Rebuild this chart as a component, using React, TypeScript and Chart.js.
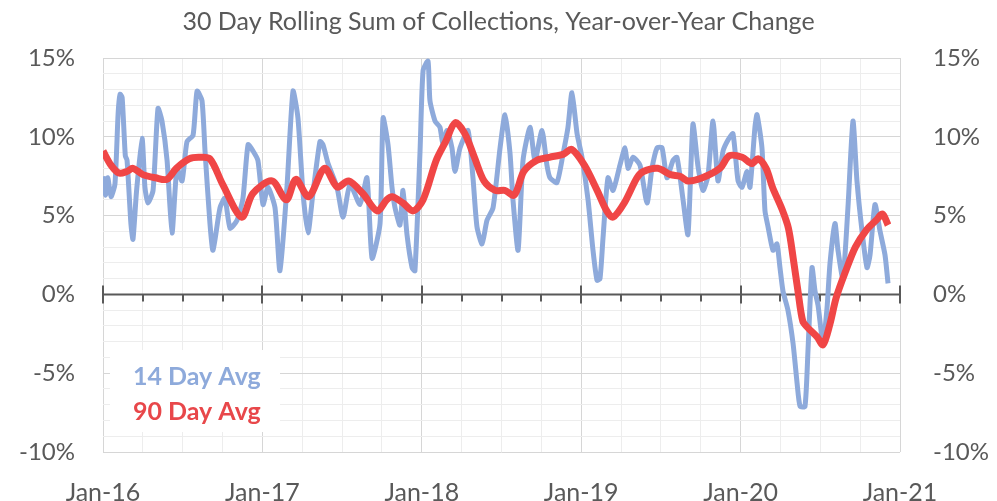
import React, { useEffect, useRef } from 'react';
import { Chart, registerables } from 'chart.js';

Chart.register(...registerables);

const TITLE = '30 Day Rolling Sum of Collections, Year-over-Year Change';
const X_START = 2016;
const X_END = 2021;
const Y_MIN = -10;
const Y_MAX = 15;

// years since Jan-16
const avg14Time = [
  0.000, 0.015, 0.030, 0.050, 0.075, 0.095, 0.107, 0.120, 0.140, 0.151, 0.175, 0.188, 0.210, 0.245, 0.263, 0.282,
  0.314, 0.345, 0.370, 0.402, 0.433, 0.464, 0.496, 0.527, 0.565, 0.590, 0.621, 0.640, 0.671, 0.690, 0.734, 0.765,
  0.797, 0.841, 0.878, 0.910, 0.941, 0.972, 1.004, 1.035, 1.079, 1.110, 1.154, 1.192, 1.223, 1.255, 1.286, 1.317,
  1.361, 1.380, 1.412, 1.468, 1.506, 1.550, 1.612, 1.656, 1.688, 1.738, 1.757, 1.788, 1.813, 1.832, 1.863, 1.882,
  1.907, 1.939, 1.957, 1.989, 2.008, 2.039, 2.051, 2.083, 2.114, 2.133, 2.158, 2.189, 2.208, 2.240, 2.290, 2.321,
  2.346, 2.378, 2.409, 2.447, 2.491, 2.522, 2.553, 2.572, 2.604, 2.635, 2.679, 2.710, 2.754, 2.785, 2.804, 2.848,
  2.886, 2.917, 2.942, 2.974, 3.005, 3.043, 3.074, 3.099, 3.118, 3.137, 3.168, 3.200, 3.243, 3.275, 3.294, 3.325,
  3.369, 3.413, 3.444, 3.476, 3.507, 3.538, 3.576, 3.601, 3.639, 3.670, 3.701, 3.733, 3.764, 3.795, 3.827, 3.858,
  3.890, 3.921, 3.952, 3.984, 4.009, 4.040, 4.059, 4.090, 4.103, 4.134, 4.153, 4.172, 4.203, 4.228, 4.247, 4.266,
  4.297, 4.329, 4.354, 4.373, 4.404, 4.423, 4.448, 4.467, 4.486, 4.517, 4.542, 4.561, 4.592, 4.611, 4.642, 4.674,
  4.705, 4.730, 4.762, 4.793, 4.812, 4.843, 4.875, 4.906, 4.925,
];
const avg14Value = [
  7.5, 6.3, 7.4, 6.2, 7.0, 11.5, 12.7, 12.5, 8.8, 8.5, 4.5, 3.5, 6.5, 9.9, 6.8, 5.8,
  6.6, 11.8, 11.0, 8.5, 3.9, 8.0, 7.2, 9.7, 10.1, 12.9, 12.3, 9.1, 4.5, 2.8, 5.5, 6.1,
  4.2, 4.7, 6.1, 9.5, 9.1, 8.5, 5.7, 6.8, 5.5, 1.5, 6.8, 12.9, 11.2, 6.4, 3.9, 6.4,
  9.7, 9.5, 8.3, 6.8, 4.9, 7.0, 5.7, 7.4, 2.3, 4.5, 11.2, 9.5, 6.8, 5.5, 4.4, 6.6,
  3.8, 1.7, 1.5, 9.1, 14.2, 14.8, 12.3, 11.0, 10.6, 9.5, 10.4, 9.3, 7.8, 9.3, 10.4, 7.4,
  4.3, 3.2, 4.7, 5.5, 9.3, 11.4, 9.0, 6.0, 2.8, 8.5, 10.6, 8.5, 10.4, 8.2, 7.4, 7.1,
  8.9, 10.6, 12.8, 10.2, 8.7, 6.0, 2.8, 0.9, 1.0, 3.6, 7.4, 6.6, 8.2, 9.3, 8.0, 8.7,
  8.2, 5.8, 8.0, 9.3, 9.3, 7.4, 8.5, 8.7, 6.0, 3.8, 10.8, 8.1, 6.6, 7.5, 11.0, 7.2,
  9.1, 9.8, 10.2, 7.2, 6.8, 7.8, 6.8, 10.6, 11.4, 9.3, 5.3, 4.3, 2.8, 3.2, 1.7, 0.2,
  -1.0, -3.1, -5.6, -7.1, -7.1, -3.5, 1.7, 0.2, -0.7, -3.1, -0.9, 2.0, 4.5, 2.8, 1.0, 5.6,
  11.0, 7.2, 4.0, 1.7, 2.5, 5.7, 4.0, 2.5, 0.7,
];

const avg90Time = [
  0.000, 0.050, 0.100, 0.150, 0.188, 0.250, 0.330, 0.400, 0.460, 0.540, 0.600, 0.671, 0.750, 0.870, 0.940, 1.060,
  1.150, 1.210, 1.290, 1.390, 1.470, 1.540, 1.630, 1.720, 1.780, 1.813, 1.882, 1.945, 2.008, 2.090, 2.150, 2.210,
  2.270, 2.330, 2.390, 2.460, 2.520, 2.580, 2.640, 2.720, 2.800, 2.890, 2.940, 3.020, 3.100, 3.160, 3.200, 3.270,
  3.350, 3.390, 3.480, 3.560, 3.620, 3.670, 3.760, 3.870, 3.930, 4.010, 4.070, 4.110, 4.160, 4.200, 4.260, 4.300,
  4.330, 4.360, 4.390, 4.420, 4.480, 4.517, 4.560, 4.600, 4.660, 4.720, 4.790, 4.850, 4.890, 4.925,
];
const avg90Value = [
  9.1, 8.2, 7.7, 7.8, 8.0, 7.6, 7.4, 7.3, 8.0, 8.6, 8.7, 8.6, 7.0, 4.9, 6.4, 7.2,
  6.0, 7.3, 6.2, 8.0, 6.8, 7.2, 6.4, 5.3, 6.0, 6.2, 5.8, 5.3, 6.0, 8.5, 9.7, 10.9,
  10.2, 8.7, 7.2, 6.6, 6.6, 6.3, 7.8, 8.5, 8.7, 8.9, 9.2, 8.2, 6.6, 5.3, 4.9, 5.8,
  7.4, 7.8, 8.0, 7.6, 7.5, 7.2, 7.4, 8.0, 8.8, 8.7, 8.3, 8.6, 8.0, 6.8, 5.4, 4.2,
  2.3, 0.2, -1.7, -2.1, -2.7, -3.2, -1.9, -0.2, 1.5, 3.0, 4.1, 4.7, 5.1, 4.4,
];

const SERIES_LABELS = ['14 Day Avg', '90 Day Avg'];
const SERIES_COLORS = ['#8eaadb', '#f04646'];
const LEGEND_COLORS = ['#8eaadb', '#e8474a'];

const FONT = 'Lato, "Open Sans", sans-serif';
const TEXT = '#595959';
const GRID_MAJOR = '#d6d6d6';
const GRID_MINOR = '#ededed';

const isWhole = (v: number) => Math.abs(v - Math.round(v)) < 1e-6;

const decorPlugin = {
  id: 'decor',
  beforeDatasetsDraw(chart: any) {
    const { ctx, chartArea, scales } = chart;
    const xs = scales.x;
    const ys = scales.y;
    ctx.save();
    // legend background box
    ctx.fillStyle = '#ffffff';
    ctx.fillRect(chartArea.left + 7, chartArea.bottom - 102, 170, 82);
    // zero axis line
    const y0 = ys.getPixelForValue(0);
    ctx.strokeStyle = '#595959';
    ctx.lineWidth = 2;
    ctx.beginPath();
    ctx.moveTo(chartArea.left, y0);
    ctx.lineTo(chartArea.right, y0);
    ctx.stroke();
    for (let q = X_START; q <= X_END + 1e-6; q += 0.25) {
      const px = Math.round(xs.getPixelForValue(q));
      ctx.beginPath();
      if (isWhole(q)) {
        ctx.moveTo(px, y0 - 9);
        ctx.lineTo(px, y0 + 9);
      } else {
        ctx.moveTo(px, y0);
        ctx.lineTo(px, y0 + 7);
      }
      ctx.stroke();
    }
    ctx.restore();
  },
  afterDatasetsDraw(chart: any) {
    const { ctx, chartArea } = chart;
    ctx.save();
    ctx.font = `bold 25px ${FONT}`;
    ctx.textAlign = 'left';
    ctx.textBaseline = 'middle';
    ctx.fillStyle = LEGEND_COLORS[0];
    ctx.fillText(SERIES_LABELS[0], chartArea.left + 30, chartArea.bottom - 75);
    ctx.fillStyle = LEGEND_COLORS[1];
    ctx.fillText(SERIES_LABELS[1], chartArea.left + 30, chartArea.bottom - 40);
    ctx.restore();
  },
};

export default function App() {
  const canvasRef = useRef<HTMLCanvasElement | null>(null);

  useEffect(() => {
    if (!canvasRef.current) return;
    const blue = avg14Time.map((t, i) => ({ x: X_START + t, y: avg14Value[i] }));
    const red = avg90Time.map((t, i) => ({ x: X_START + t, y: avg90Value[i] }));

    const yTicks = {
      stepSize: 1,
      autoSkip: false,
      color: TEXT,
      font: { family: FONT, size: 24 },
      callback: (v: any) => (Math.round(v) % 5 === 0 ? `${Math.round(v)}%` : ''),
    };

    const chart = new Chart(canvasRef.current, {
      type: 'line',
      data: {
        datasets: [
          {
            label: SERIES_LABELS[1],
            data: red,
            borderColor: SERIES_COLORS[1],
            borderWidth: 7,
            pointRadius: 0,
            tension: 0.3,
            order: 1,
          },
          {
            label: SERIES_LABELS[0],
            data: blue,
            borderColor: SERIES_COLORS[0],
            borderWidth: 5,
            pointRadius: 0,
            tension: 0.2,
            order: 2,
          },
        ],
      },
      options: {
        animation: false,
        responsive: false,
        layout: { padding: 0 },
        plugins: {
          legend: { display: false },
          tooltip: { enabled: false },
          title: {
            display: true,
            text: TITLE,
            color: TEXT,
            font: { family: FONT, size: 25, weight: 'normal' },
            padding: { top: 7, bottom: 21 },
          },
        },
        scales: {
          x: {
            type: 'linear',
            position: 'bottom',
            min: X_START,
            max: X_END,
            border: { display: false },
            grid: {
              drawTicks: false,
              color: (c: any) => (c.tick && isWhole(c.tick.value) ? GRID_MAJOR : GRID_MINOR),
            },
            ticks: {
              stepSize: 0.25,
              autoSkip: false,
              maxRotation: 0,
              padding: 26,
              color: TEXT,
              font: { family: FONT, size: 25 },
              callback: (v: any) => (isWhole(v) ? `Jan-${String(Math.round(v)).slice(2)}` : ''),
            },
            afterFit: (s: any) => {
              s.height = 49;
            },
          },
          y: {
            type: 'linear',
            position: 'left',
            min: Y_MIN,
            max: Y_MAX,
            border: { display: false },
            grid: {
              drawTicks: false,
              color: (c: any) => (c.tick && Math.round(c.tick.value) % 5 === 0 ? GRID_MAJOR : GRID_MINOR),
            },
            ticks: { ...yTicks, padding: 28 },
            afterFit: (s: any) => {
              s.width = 103;
            },
          },
          y2: {
            type: 'linear',
            position: 'right',
            min: Y_MIN,
            max: Y_MAX,
            border: { display: false },
            grid: { display: false, drawTicks: false },
            ticks: { ...yTicks, padding: 33 },
            afterFit: (s: any) => {
              s.width = 97;
            },
          },
        },
      },
      plugins: [decorPlugin],
    } as any);

    return () => chart.destroy();
  }, []);

  return (
    <div style={{ position: 'fixed', left: 0, top: 0, width: 997, height: 501, background: '#fff' }}>
      <canvas ref={canvasRef} width={997} height={501} style={{ width: 997, height: 501 }} />
    </div>
  );
}
